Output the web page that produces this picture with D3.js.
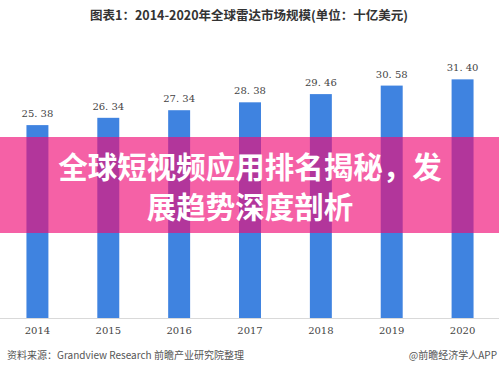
<!DOCTYPE html>
<html>
<head>
<meta charset="utf-8">
<script src="https://cdn.jsdelivr.net/npm/d3@7"></script>
<style>
  body { margin: 0; background: #fff; }
  svg { display: block; }
</style>
</head>
<body>
<div id="chart"></div>
<script>
const years = ['2014', '2015', '2016', '2017', '2018', '2019', '2020']
const values = [25.38, 26.34, 27.34, 28.38, 29.46, 30.58, 31.40]
const chartTitle = '图表1：2014-2020年全球雷达市场规模(单位：十亿美元)'
const bannerLines = ['全球短视频应用排名揭秘，发', '展趋势深度剖析']
const sourceText = '资料来源：Grandview Research 前瞻产业研究院整理'
const brandText = '@前瞻经济学人APP'

const width = 499
const height = 372
const baseY = 318

const svg = d3.select('#chart').append('svg')
  .attr('width', width)
  .attr('height', height)

// title
svg.append('text')
  .attr('x', 249)
  .attr('y', 20)
  .attr('text-anchor', 'middle')
  .attr('font-family', '"Noto Sans CJK SC", sans-serif')
  .attr('font-size', 12.5)
  .attr('font-weight', 'bold')
  .attr('fill', '#333')
  .text(chartTitle)

const x = d3.scaleBand()
  .domain(years)
  .range([2, 498])
  .paddingInner(0.69)
  .paddingOuter(0.345)

const y = d3.scaleLinear()
  .domain([0, 35])
  .range([baseY, baseY - 35 * 7.6])

// axis
const xAxis = svg.append('g')
  .attr('transform', `translate(0,${baseY})`)
  .call(d3.axisBottom(x).tickSize(0).tickPadding(9))
xAxis.select('.domain').attr('stroke', '#d9d9d9').attr('d', `M0,0.5H${width}`)
xAxis.selectAll('text')
  .attr('font-family', '"DejaVu Serif", "Liberation Serif", serif')
  .attr('font-size', 10)
  .attr('fill', '#444')

// bars
svg.append('g').selectAll('rect')
  .data(values)
  .join('rect')
  .attr('x', (d, i) => x(years[i]))
  .attr('width', x.bandwidth())
  .attr('y', d => y(d))
  .attr('height', d => baseY - y(d))
  .attr('fill', '#3f83e0')

// value labels
svg.append('g').selectAll('text')
  .data(values)
  .join('text')
  .attr('x', (d, i) => x(years[i]) + x.bandwidth() / 2)
  .attr('y', d => y(d) - 8)
  .attr('text-anchor', 'middle')
  .attr('font-family', '"DejaVu Serif", "Liberation Serif", serif')
  .attr('font-size', 10)
  .attr('fill', '#444')
  .text(d => d.toFixed(2).replace('.', '. '))

// footer
svg.append('text')
  .attr('x', 7)
  .attr('y', 359)
  .attr('font-family', '"Noto Sans CJK SC", sans-serif')
  .attr('font-size', 10)
  .attr('fill', '#555')
  .text(sourceText)

svg.append('text')
  .attr('x', 497)
  .attr('y', 359)
  .attr('text-anchor', 'end')
  .attr('font-family', '"Noto Sans CJK SC", sans-serif')
  .attr('font-size', 10)
  .attr('fill', '#555')
  .text(brandText)

// banner overlay
svg.append('rect')
  .attr('x', 0)
  .attr('y', 137)
  .attr('width', width)
  .attr('height', 96)
  .attr('fill', 'rgb(240,12,118)')
  .attr('fill-opacity', 0.65)

svg.append('g').selectAll('text')
  .data(bannerLines)
  .join('text')
  .attr('x', 250)
  .attr('y', (d, i) => 178 + i * 40)
  .attr('text-anchor', 'middle')
  .attr('font-family', '"Noto Sans CJK SC", sans-serif')
  .attr('font-size', 29.5)
  .attr('font-weight', 'bold')
  .attr('fill', '#fff')
  .text(d => d)
</script>
</body>
</html>
